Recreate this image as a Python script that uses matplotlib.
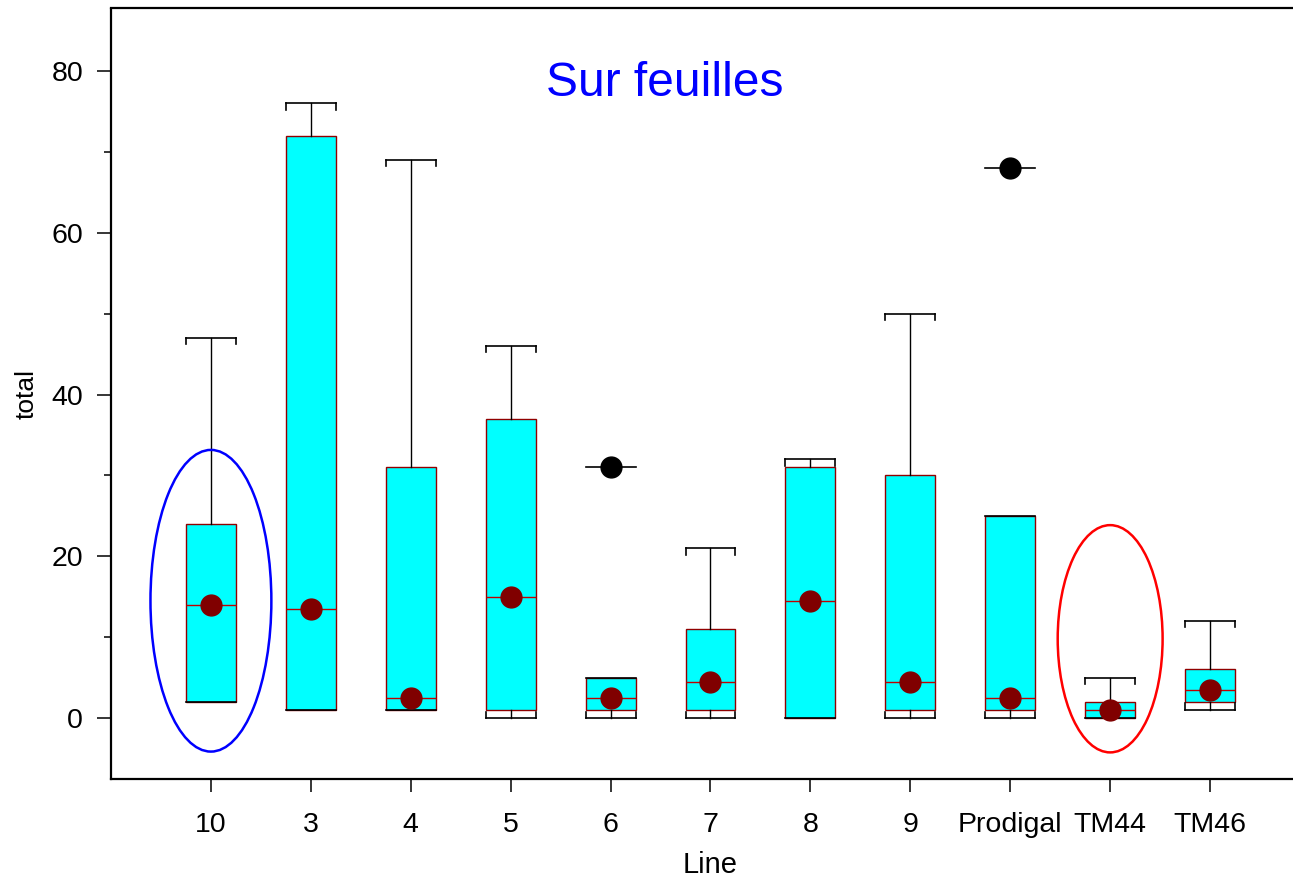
import matplotlib
matplotlib.use("Agg")
import matplotlib.pyplot as plt
from matplotlib.patches import Ellipse
from matplotlib.ticker import MultipleLocator

plt.rcParams['font.family'] = ['Liberation Sans', 'DejaVu Sans']

# ---- data ----
lines = ["10", "3", "4", "5", "6", "7", "8", "9", "Prodigal", "TM44", "TM46"]
whislo = [2, 1, 1, 0, 0, 0, 0, 0, 0, 0, 1]
q1     = [2, 1, 1, 1, 1, 1, 0, 1, 1, 0, 2]
med    = [14, 13.5, 2.5, 15, 2.5, 4.5, 14.5, 4.5, 2.5, 1, 3.5]
q3     = [24, 72, 31, 37, 5, 11, 31, 30, 25, 2, 6]
whishi = [47, 76, 69, 46, 5, 21, 32, 50, 25, 5, 12]
means  = [14, 13.5, 2.5, 15, 2.5, 4.5, 14.5, 4.5, 2.5, 1, 3.5]
outliers = [[], [], [], [], [31], [], [], [], [68], [], []]

BOXW = 0.5
CAPTICK = 0.8

fig = plt.figure(figsize=(12.93, 8.80), dpi=100)
ax = fig.add_axes([111/1293, (880-779)/880, 1 - 111/1293, (779-8.5)/880])

pos = list(range(len(lines)))
stats = []
for i in pos:
    stats.append(dict(label=lines[i], whislo=whislo[i], q1=q1[i], med=med[i],
                      q3=q3[i], whishi=whishi[i], mean=means[i], fliers=[]))

ax.bxp(stats, positions=pos, widths=BOXW, capwidths=BOXW, patch_artist=True,
       showmeans=True, showfliers=False,
       boxprops=dict(facecolor='#00ffff', edgecolor='#900000', linewidth=1.0),
       medianprops=dict(color='#c00000', linewidth=1.0),
       whiskerprops=dict(color='black', linewidth=1.0),
       capprops=dict(color='black', linewidth=1.2),
       meanprops=dict(marker='o', markerfacecolor='#800000', markeredgecolor='#800000',
                      markersize=15), zorder=3)

# cap end ticks and outliers
for i in pos:
    x0, x1 = i - BOXW/2, i + BOXW/2
    if whishi[i] > q3[i]:
        for xx in (x0, x1):
            ax.plot([xx, xx], [whishi[i], whishi[i] - CAPTICK], color='black', lw=1.2, zorder=3)
    if whislo[i] < q1[i]:
        for xx in (x0, x1):
            ax.plot([xx, xx], [whislo[i], whislo[i] + CAPTICK], color='black', lw=1.2, zorder=3)
    for o in outliers[i]:
        ax.plot([x0, x1], [o, o], color='black', lw=1.2, zorder=3)
        ax.plot([i], [o], marker='o', color='black', markersize=15, zorder=4)

# highlight ellipses
ax.add_patch(Ellipse((0, 14.5), 1.21, 37.3, fill=False, edgecolor='#0000ff', lw=1.8, zorder=5))
ax.add_patch(Ellipse((9, 9.8), 1.05, 28.1, fill=False, edgecolor='#ff0000', lw=1.8, zorder=5))

ax.set_xlim(-1.0, 10.83)
ax.set_ylim(-7.54, 87.73)
ax.set_xticks(pos)
ax.set_xticklabels(lines)
ax.yaxis.set_major_locator(MultipleLocator(20))
ax.yaxis.set_minor_locator(MultipleLocator(10))

for s in ('left', 'bottom', 'top'):
    ax.spines[s].set_linewidth(1.6)
ax.spines['right'].set_visible(False)

ax.tick_params(axis='y', which='major', direction='out', length=10, width=1.1,
               labelsize=20.5, pad=10)
ax.tick_params(axis='y', which='minor', direction='out', length=5, width=1.1)
ax.tick_params(axis='x', which='major', direction='out', length=9.5, width=1.1,
               labelsize=20.5, pad=14.5)

ax.set_xlabel("Line", fontsize=21, labelpad=9)
ax.xaxis.label.set_x((710 - 111) / (1293 - 111))
ax.set_ylabel("total", fontsize=19, labelpad=9)

fig.text(665/1293, 1 - 83/880, "Sur feuilles", color='#0000ff', fontsize=34.5,
         ha='center', va='center')

fig.savefig("out.png", dpi=100)
